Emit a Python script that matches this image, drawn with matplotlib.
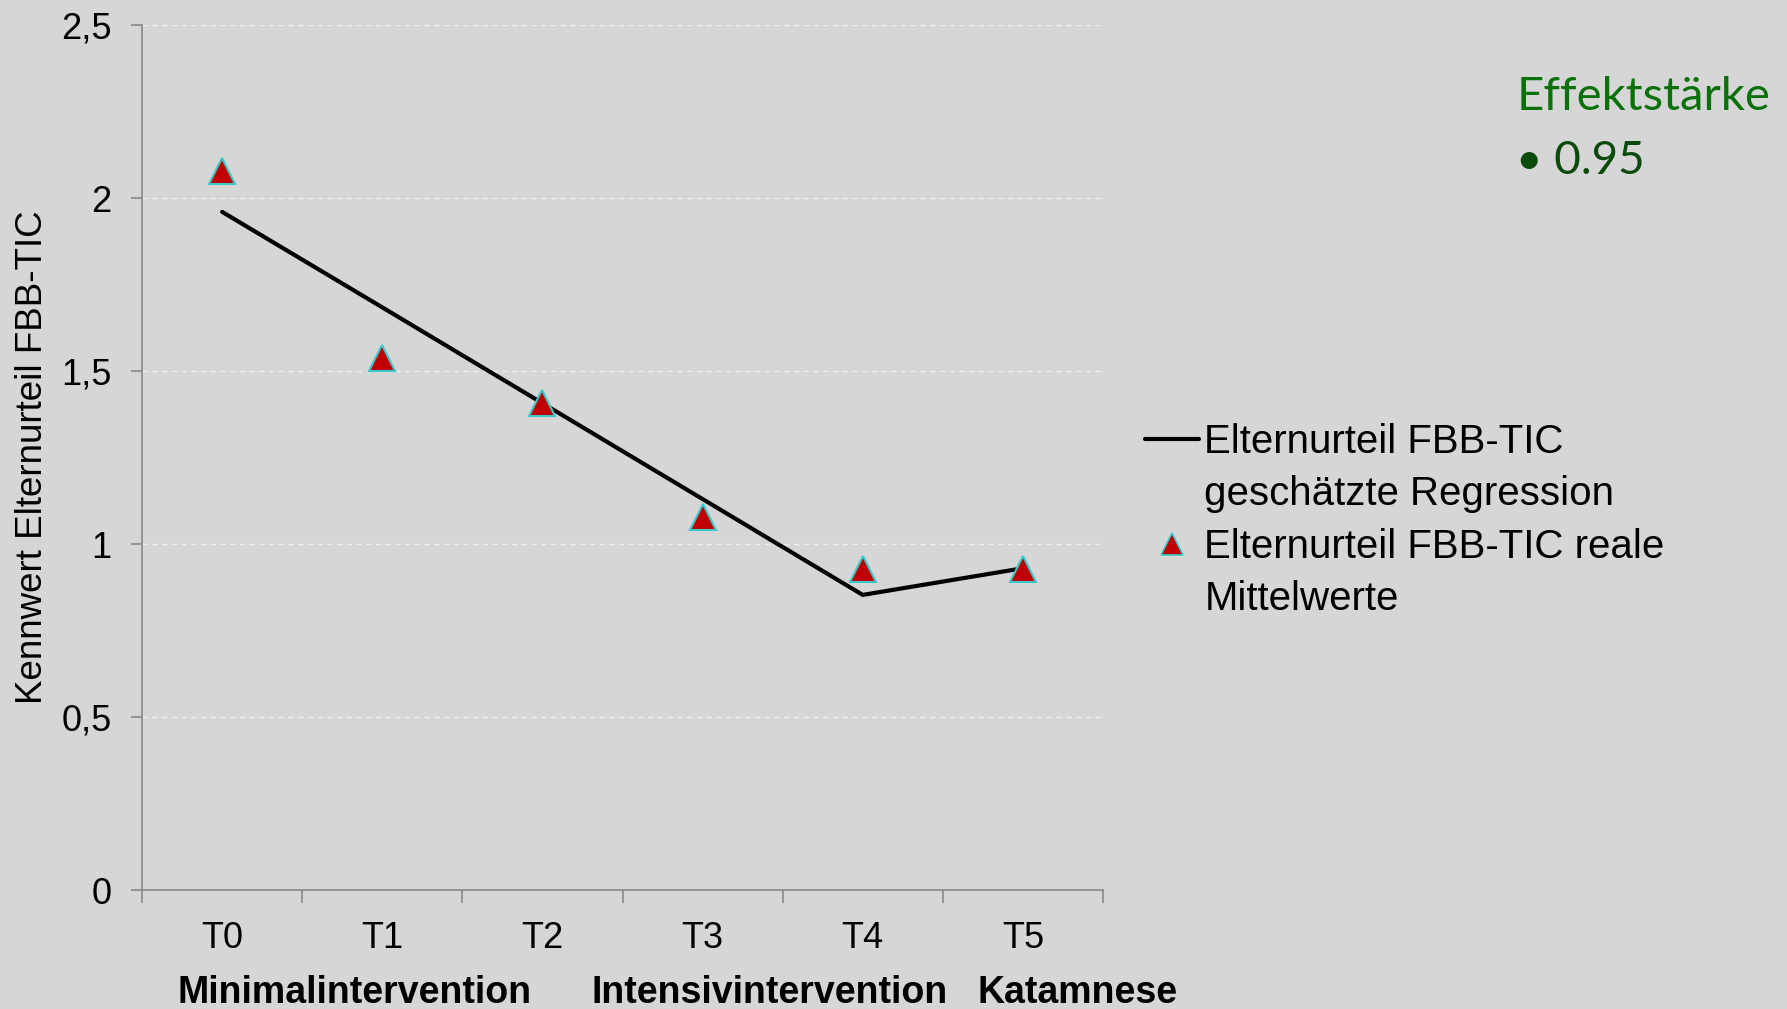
import numpy as np
import matplotlib
matplotlib.use("Agg")
import matplotlib.pyplot as plt
from matplotlib.lines import Line2D

# data
zeitpunkte = ["T0", "T1", "T2", "T3", "T4", "T5"]
phasen = ["Minimalintervention", "Intensivintervention", "Katamnese"]
phasen_pos = [0.83, 3.42, 5.34]
regression = [1.96, 1.684, 1.407, 1.13, 0.853, 0.93]
mittelwerte = [2.078, 1.539, 1.407, 1.078, 0.928, 0.928]
effekt = "0.95"

bg = "#d6d6d6"
plt.rcParams["font.family"] = ["Liberation Sans", "DejaVu Sans"]

fig = plt.figure(figsize=(17.87, 10.09), dpi=100, facecolor=bg)
ax = fig.add_axes([0.0795, 0.1179, 0.5377, 0.8573], facecolor=bg)

x = np.arange(len(zeitpunkte))
reg_line, = ax.plot(x, regression, color="black", lw=3, solid_capstyle="round", zorder=3)
mw_pts, = ax.plot(x, mittelwerte, ls="none", marker="^", ms=19, mfc="#c00000",
                  mec="#3cc8c8", mew=1.5, zorder=4)

ax.set_xlim(-0.5, 5.5)
ax.set_ylim(0, 2.5)
ax.set_yticks([0, 0.5, 1, 1.5, 2, 2.5])
ax.set_yticklabels(["0", "0,5", "1", "1,5", "2", "2,5"])
ax.set_xticks(x)
ax.set_xticklabels(zeitpunkte)
ax.set_xticks(np.arange(-0.5, 6, 1), minor=True)
ax.tick_params(axis="x", which="major", length=0, labelsize=26, pad=22)
ax.tick_params(axis="x", which="minor", length=9, color="#888888", width=1.2)
ax.tick_params(axis="y", length=8, color="#888888", width=1.2, labelsize=26, pad=14)
ax.grid(axis="y", color="#eeeeee", ls=(0, (4, 3)), lw=1)
for s in ["top", "right"]:
    ax.spines[s].set_visible(False)
for s in ["left", "bottom"]:
    ax.spines[s].set_color("#888888")
    ax.spines[s].set_linewidth(1.2)

ax.set_ylabel("Kennwert Elternurteil FBB-TIC", fontsize=26.5, labelpad=8)

for p, name in zip(phasen_pos, phasen):
    ax.text(p, -0.297, name, ha="center", va="center", fontsize=27,
            fontweight="bold")

# legend: first line carries the handle, second line is a blank entry
blank = Line2D([], [], ls="none")
mw_handle = Line2D([], [], ls="none", marker="^", ms=16, mfc="#c00000",
                   mec="#3cc8c8", mew=1.2)
leg = fig.legend([reg_line, blank, mw_handle, blank],
                 ["Elternurteil FBB-TIC", "geschätzte Regression",
                  "Elternurteil FBB-TIC reale", "Mittelwerte"],
                 loc="upper left", bbox_to_anchor=(0.6295, 0.601), frameon=False,
                 fontsize=29, handlelength=1.33, handletextpad=0.14,
                 labelspacing=0.36, borderpad=0)

fig.text(0.8485, 0.904, "Effektstärke", color="#0a700a", fontsize=34,
         family="Lato", va="center")
fig.text(0.8485, 0.840, "• " + effekt, color="#0a4a0a", fontsize=33,
         family="Lato", va="center")

fig.savefig("out.png", dpi=100, facecolor=bg)
